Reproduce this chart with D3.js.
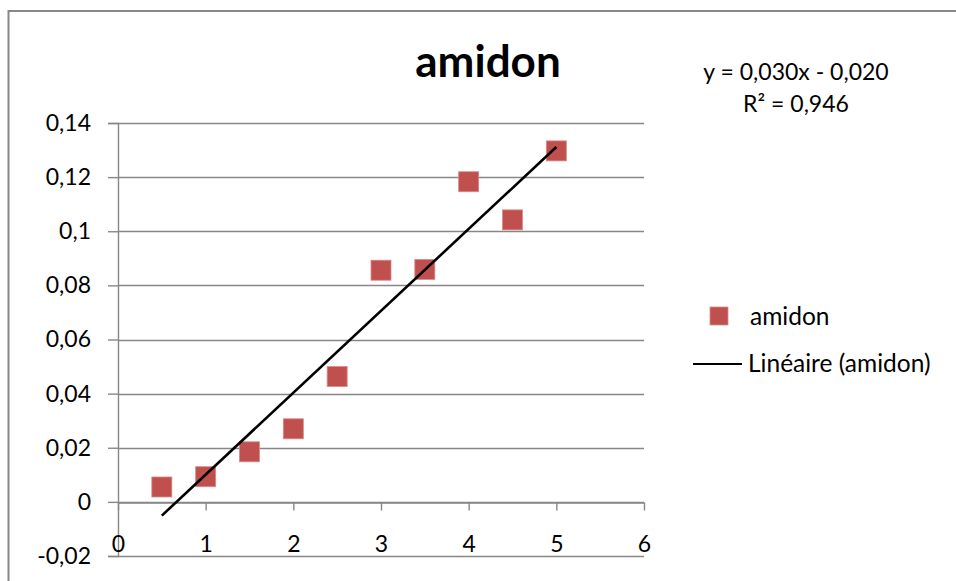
<!DOCTYPE html>
<html>
<head>
<meta charset="utf-8">
<script src="https://cdn.jsdelivr.net/npm/d3@7"></script>
<style>
  html, body { margin: 0; padding: 0; background: #fff; }
  svg { display: block; }
  text { font-family: Lato, "Open Sans", sans-serif; fill: #000; }
</style>
</head>
<body>
<svg id="chart" width="956" height="581"></svg>
<script>
// ---- data ----
const title = "amidon";
const seriesName = "amidon";
const trendName = "Linéaire (amidon)";
const xValues = [0.5, 1, 1.5, 2, 2.5, 3, 3.5, 4, 4.5, 5];
const yValues = [0.0055, 0.0093, 0.0185, 0.027, 0.0463, 0.0856, 0.0859, 0.1183, 0.1042, 0.1297];
const xTicks = [0, 1, 2, 3, 4, 5, 6];
const yTicks = [-0.02, 0, 0.02, 0.04, 0.06, 0.08, 0.1, 0.12, 0.14];
const equationText = "y = 0,030x - 0,020";
const r2Text = "R² = 0,946";

// ---- layout ----
const svg = d3.select("#chart");
const gridColor = "#878787";
const markerColor = "#C0504D";
const fmt = v => String(+v.toFixed(2)).replace(".", ",");

const x = d3.scaleLinear().domain([0, 6]).range([118, 644]);
const y = d3.scaleLinear().domain([-0.02, 0.14]).range([556, 123]);

// outer frame (extends beyond the viewport on right/bottom)
svg.append("rect")
  .attr("x", 8.5).attr("y", 11)
  .attr("width", 1000).attr("height", 700)
  .attr("fill", "none").attr("stroke", gridColor).attr("stroke-width", 2);

// gridlines
svg.append("g").selectAll("line").data(yTicks).join("line")
  .attr("x1", x(0)).attr("x2", x(6))
  .attr("y1", d => Math.round(y(d)) + 0.5).attr("y2", d => Math.round(y(d)) + 0.5)
  .attr("stroke", gridColor).attr("stroke-width", 1.4);

// y axis
const yAxis = d3.axisLeft(y).tickValues(yTicks).tickFormat(fmt).tickSize(10).tickPadding(17);
const gy = svg.append("g").attr("transform", `translate(${x(0)},0)`).call(yAxis);
gy.select(".domain").attr("stroke", gridColor).attr("stroke-width", 1.4);
gy.selectAll(".tick line").attr("stroke", gridColor).attr("stroke-width", 1.4);
gy.selectAll("text").style("font-size", "23px").attr("fill", "#000");

// x axis along y = 0
const xAxis = d3.axisBottom(x).tickValues(xTicks).tickFormat(d => String(d)).tickSize(8).tickPadding(25).tickSizeOuter(0);
const gx = svg.append("g").attr("transform", `translate(0,${Math.round(y(0)) + 0.5})`).call(xAxis);
gx.select(".domain").attr("stroke", gridColor).attr("stroke-width", 1.4);
gx.selectAll(".tick line").attr("stroke", gridColor).attr("stroke-width", 1.4);
gx.selectAll("text").style("font-size", "23px").attr("fill", "#000");

// markers
const pts = xValues.map((v, i) => [v, yValues[i]]);
const ms = 20;
svg.append("g").selectAll("rect").data(pts).join("rect")
  .attr("x", d => x(d[0]) - ms / 2).attr("y", d => y(d[1]) - ms / 2)
  .attr("width", ms).attr("height", ms)
  .attr("fill", markerColor).attr("stroke", "#d68a88").attr("stroke-width", 0.8);

// linear trendline (least squares)
const mx = d3.mean(xValues), my = d3.mean(yValues);
const slope = d3.sum(xValues, (v, i) => (v - mx) * (yValues[i] - my)) / d3.sum(xValues, v => (v - mx) ** 2);
const intercept = my - slope * mx;
const x0 = d3.min(xValues), x1 = d3.max(xValues);
svg.append("line")
  .attr("x1", x(x0)).attr("y1", y(slope * x0 + intercept))
  .attr("x2", x(x1)).attr("y2", y(slope * x1 + intercept))
  .attr("stroke", "#000").attr("stroke-width", 2.6);

// title
svg.append("text").attr("x", 488).attr("y", 77).attr("text-anchor", "middle")
  .style("font-size", "44px").style("font-weight", "bold").text(title);

// equation
svg.append("text").attr("x", 796).attr("y", 80).attr("text-anchor", "middle")
  .style("font-size", "23px").text(equationText);
svg.append("text").attr("x", 796).attr("y", 112).attr("text-anchor", "middle")
  .style("font-size", "23px").text(r2Text);

// legend
svg.append("rect").attr("x", 710).attr("y", 307).attr("width", 18).attr("height", 18)
  .attr("fill", markerColor).attr("stroke", "#d68a88").attr("stroke-width", 0.8);
svg.append("text").attr("x", 750).attr("y", 325).style("font-size", "24.5px").text(seriesName);
svg.append("line").attr("x1", 693).attr("x2", 742).attr("y1", 364).attr("y2", 364)
  .attr("stroke", "#000").attr("stroke-width", 2);
svg.append("text").attr("x", 748).attr("y", 372).style("font-size", "24.5px").text(trendName);
</script>
</body>
</html>
